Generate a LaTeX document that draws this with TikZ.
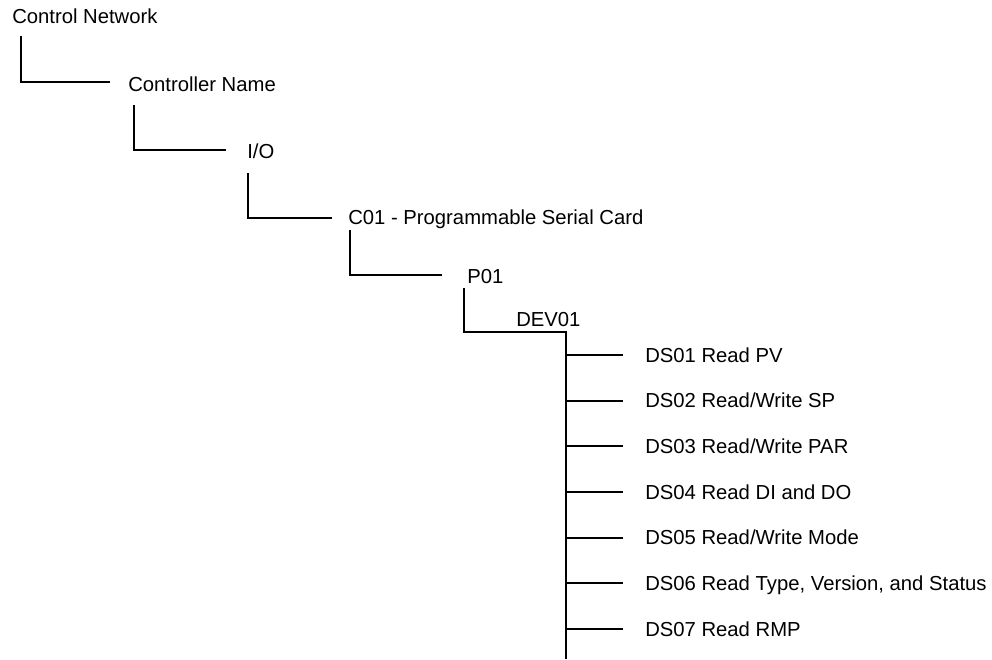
\documentclass[tikz,border=0pt]{standalone}
\usepackage{fontspec}
\setmainfont{Liberation Sans}
\begin{document}
\begin{tikzpicture}[x=0.75pt,y=-0.75pt,
  lbl/.style={anchor=base west,inner sep=0pt,font=\fontsize{15.2pt}{18pt}\selectfont},
  conn/.style={draw=black,line width=1.4pt}]
\useasboundingbox (0,0) rectangle (992,660);
% labels
\node[lbl] (cn)  at (12,24)  {Control Network};
\node[lbl] (ctl) at (128,92) {Controller Name};
\node[lbl] (io)  at (247,158) {I/O};
\node[lbl] (c01) at (348,224) {C01 - Programmable Serial Card};
\node[lbl] (p01) at (467,283) {P01};
\node[lbl] (dev) at (516,326) {DEV01};
% connector points
\coordinate (a1) at (21,36);  \coordinate (a2) at (21,82);  \coordinate (a3) at (110,82);
\coordinate (b1) at (134,105); \coordinate (b2) at (134,150); \coordinate (b3) at (226,150);
\coordinate (c1) at (248,173); \coordinate (c2) at (248,218); \coordinate (c3) at (332,218);
\coordinate (d1) at (350,230); \coordinate (d2) at (350,275); \coordinate (d3) at (442,275);
\coordinate (e1) at (464,288); \coordinate (e2) at (464,332); \coordinate (e3) at (566,332);
\coordinate (trunkend) at (566,659);
\draw[conn] (a1) -- (a2) -- (a3);
\draw[conn] (b1) -- (b2) -- (b3);
\draw[conn] (c1) -- (c2) -- (c3);
\draw[conn] (d1) -- (d2) -- (d3);
\draw[conn] (e1) -- (e2) -- (e3) -- (trunkend);
% data sets
\foreach \t [count=\i from 0] in {DS01 Read PV,DS02 Read/Write SP,DS03 Read/Write PAR,DS04 Read DI and DO,DS05 Read/Write Mode,{DS06 Read Type, Version, and Status},DS07 Read RMP}{
  \pgfmathsetmacro{\yy}{355+45.67*\i}
  \coordinate (s\i) at (566,\yy);
  \coordinate (t\i) at (623,\yy);
  \node[lbl] (ds\i) at (645,\yy+7) {\t};
  \draw[conn] (s\i) -- (t\i);
}
\end{tikzpicture}
\end{document}
